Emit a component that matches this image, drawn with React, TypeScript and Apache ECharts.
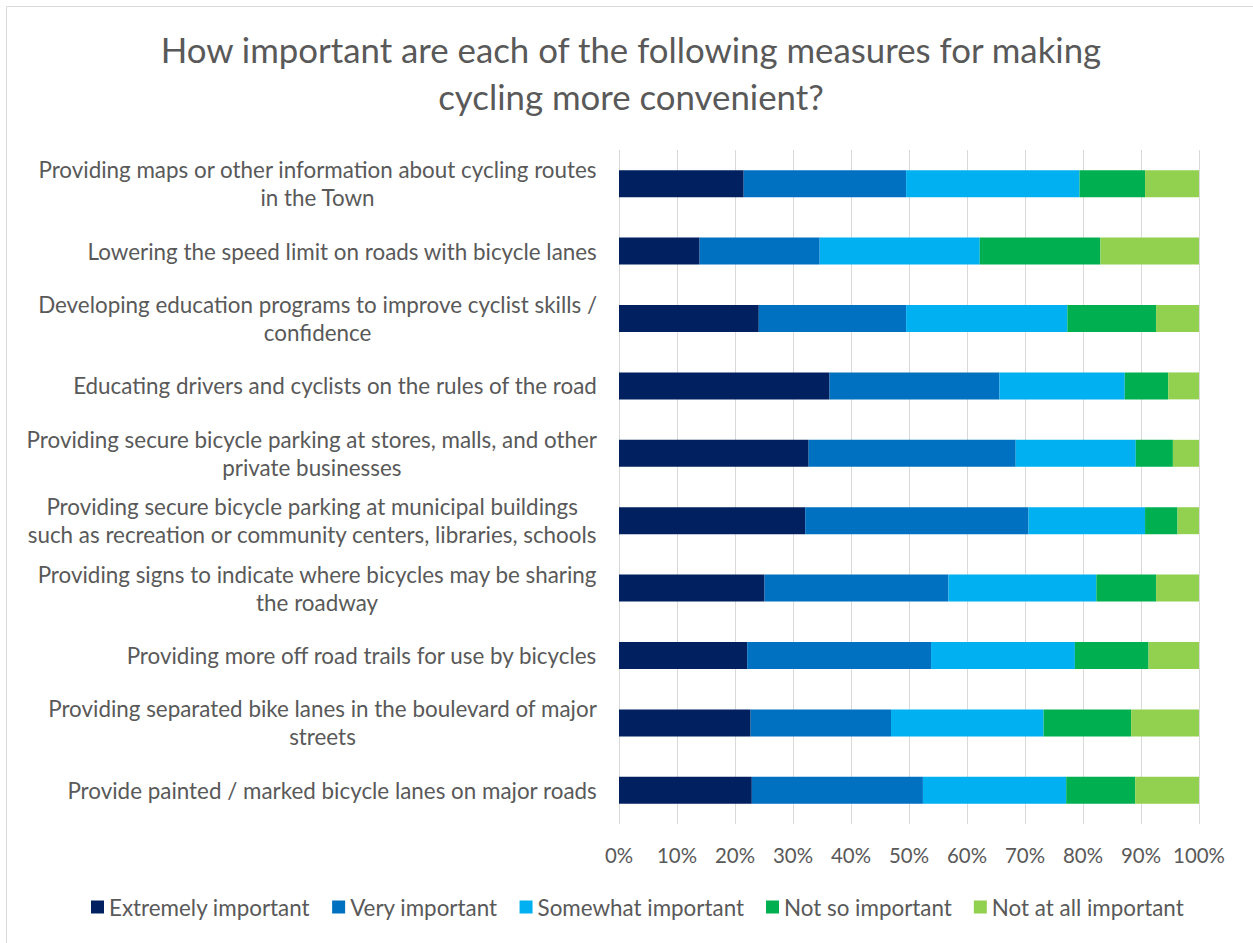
import React, { useEffect, useRef } from "react";
import * as echarts from "echarts";

const categories = [
  "Providing maps or other information about cycling routes\nin the Town",
  "Lowering the speed limit on roads with bicycle lanes",
  "Developing education programs to improve cyclist skills /\nconfidence",
  "Educating drivers and cyclists on the rules of the road",
  "Providing secure bicycle parking at stores, malls, and other\nprivate businesses",
  "Providing secure bicycle parking at municipal buildings\nsuch as recreation or community centers, libraries, schools",
  "Providing signs to indicate where bicycles may be sharing\nthe roadway",
  "Providing more off road trails for use by bicycles",
  "Providing separated bike lanes in the boulevard of major\nstreets",
  "Provide painted / marked bicycle lanes on major roads",
];

const extremelyImportant = [21.5, 13.9, 24.1, 36.3, 32.7, 32.1, 25.1, 22.1, 22.7, 22.9];
const veryImportant = [28.0, 20.7, 25.4, 29.3, 35.7, 38.5, 31.7, 31.7, 24.2, 29.5];
const somewhatImportant = [29.9, 27.6, 27.8, 21.6, 20.7, 20.1, 25.5, 24.8, 26.3, 24.7];
const notSoImportant = [11.3, 20.8, 15.3, 7.5, 6.4, 5.6, 10.3, 12.7, 15.1, 11.9];
const notAtAllImportant = [9.3, 17.0, 7.4, 5.3, 4.5, 3.7, 7.4, 8.7, 11.7, 11.0];

const seriesNames = [
  "Extremely important",
  "Very important",
  "Somewhat important",
  "Not so important",
  "Not at all important",
];
const seriesColors = ["#002060", "#0070C0", "#00B0F0", "#00B050", "#92D050"];
const seriesData = [
  extremelyImportant,
  veryImportant,
  somewhatImportant,
  notSoImportant,
  notAtAllImportant,
];

const FONT = "Lato";
const TEXT = "#595959";

export default function App() {
  const ref = useRef<HTMLDivElement>(null);

  useEffect(() => {
    if (!ref.current) return;
    const chart = echarts.init(ref.current, null, { renderer: "svg" });
    chart.setOption({
      animation: false,
      backgroundColor: "#ffffff",
      textStyle: { fontFamily: FONT, color: TEXT },
      graphic: [
        {
          type: "rect",
          shape: { x: 6.5, y: 6.5, width: 1400, height: 1100 },
          style: { fill: "none", stroke: "#d9d9d9", lineWidth: 1 },
          silent: true,
        },
      ],
      title: {
        text: "How important are each of the following measures for making\ncycling more convenient?",
        left: 631,
        top: 26,
        textAlign: "center",
        padding: 0,
        textStyle: {
          fontFamily: FONT,
          fontSize: 34.8,
          fontWeight: "normal",
          color: TEXT,
          lineHeight: 47,
        },
      },
      legend: {
        bottom: 25,
        left: 91,
        padding: 0,
        itemWidth: 13,
        itemHeight: 13,
        itemGap: 22,
        icon: "rect",
        textStyle: { fontFamily: FONT, fontSize: 22.4, color: TEXT },
        data: seriesNames,
      },
      grid: { left: 619, right: 54, top: 150, bottom: 119, containLabel: false },
      xAxis: {
        type: "value",
        min: 0,
        max: 100,
        interval: 10,
        axisLine: { show: false },
        axisTick: { show: false },
        splitLine: { show: true, lineStyle: { color: "#d9d9d9", width: 1 } },
        axisLabel: {
          formatter: "{value}%",
          fontFamily: FONT,
          fontSize: 20.4,
          color: TEXT,
          margin: 21,
        },
      },
      yAxis: {
        type: "category",
        inverse: true,
        data: categories,
        axisLine: { show: false },
        axisTick: { show: false },
        splitLine: { show: false },
        axisLabel: {
          margin: 22,
          formatter: (v: string) =>
            v
              .split("\n")
              .map((l) => `{c|${l}}`)
              .join("\n"),
          rich: {
            c: {
              align: "center",
              fontFamily: FONT,
              fontSize: 22.4,
              lineHeight: 28,
              color: TEXT,
            },
          },
        },
      },
      series: seriesNames.map((name, i) => ({
        name,
        type: "bar",
        stack: "total",
        barWidth: "40%",
        data: seriesData[i],
        itemStyle: { color: seriesColors[i] },
        emphasis: { disabled: true },
      })),
    });
    return () => chart.dispose();
  }, []);

  return (
    <div
      ref={ref}
      style={{ position: "fixed", left: 0, top: 0, width: 1253, height: 943 }}
    />
  );
}
